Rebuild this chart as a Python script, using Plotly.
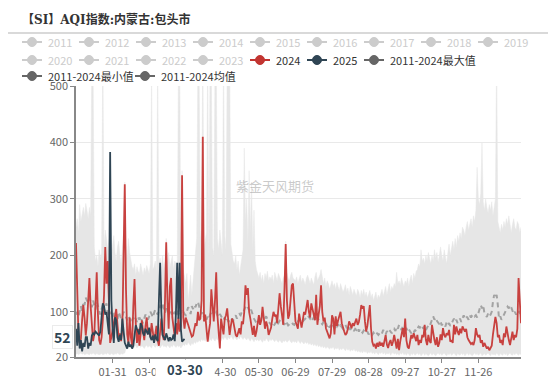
import plotly.graph_objects as go
import pandas as pd

# ---------------- data ----------------
days = pd.date_range("2024-01-01", "2024-12-31", freq="D").strftime("%m-%d").tolist()

v2024 = [
    222, 110, 60, 45, 52, 85, 112, 90, 58, 80,
    125, 160, 110, 70, 48, 60, 120, 170, 95, 50,
    42, 55, 85, 130, 215, 150, 190, 100, 45, 55,
    68, 80, 95, 105, 78, 55, 62, 48, 70, 190,
    326, 140, 60, 45, 90, 55, 40, 110, 158, 80,
    45, 70, 40, 60, 85, 65, 50, 75, 90, 60,
    70, 55, 80, 65, 45, 60, 75, 50, 40, 65,
    88, 60, 50, 120, 223, 120, 70, 145, 160, 90,
    70, 55, 80, 60, 90, 65, 75, 342, 90, 70,
    90, 85, 77, 70, 60, 56, 58, 70, 80, 75,
    100, 85, 88, 120, 410, 83, 95, 70, 47, 65,
    80, 140, 100, 83, 120, 170, 94, 60, 35, 88,
    70, 60, 88, 94, 106, 80, 59, 75, 88, 83,
    70, 59, 56, 65, 71, 60, 83, 78, 100, 147,
    130, 142, 100, 88, 70, 59, 75, 56, 65, 80,
    94, 77, 85, 109, 90, 70, 83, 75, 59, 65,
    72, 88, 100, 92, 95, 80, 105, 133, 110, 90,
    77, 140, 220, 120, 88, 95, 118, 147, 150, 106,
    83, 77, 70, 97, 80, 72, 85, 100, 95, 106,
    121, 100, 90, 115, 105, 94, 85, 130, 77, 95,
    110, 147, 100, 83, 90, 71, 65, 59, 53, 62,
    94, 88, 60, 92, 75, 85, 95, 100, 80, 70,
    65, 59, 62, 70, 83, 78, 71, 80, 75, 82,
    88, 77, 82, 95, 112, 106, 110, 83, 65, 75,
    90, 112, 70, 47, 40, 42, 35, 45, 38, 47,
    40, 45, 38, 47, 59, 42, 36, 45, 50, 40,
    47, 59, 45, 35, 52, 32, 48, 60, 71, 55,
    88, 50, 38, 35, 45, 59, 53, 62, 55, 48,
    59, 41, 50, 45, 59, 55, 77, 50, 41, 59,
    48, 45, 77, 60, 50, 41, 55, 38, 45, 60,
    50, 71, 59, 55, 62, 59, 68, 47, 50, 45,
    77, 60, 74, 65, 59, 70, 62, 74, 68, 65,
    70, 55, 50, 47, 43, 45, 41, 50, 71, 60,
    55, 59, 45, 50, 38, 45, 41, 35, 38, 32,
    36, 40, 60, 75, 91, 80, 55, 59, 45, 50,
    41, 62, 55, 74, 60, 50, 41, 55, 65, 50,
    59, 55, 70, 160, 110, 80,
]

v2025 = [
    70, 40, 80, 35, 50, 30, 45, 38, 55, 55,
    35, 45, 40, 58, 62, 60, 65, 62, 60, 58,
    65, 90, 115, 110, 95, 100, 80, 60, 383, 120,
    70, 45, 90, 85, 55, 47, 59, 50, 88, 60,
    45, 40, 35, 47, 38, 42, 35, 40, 65, 76,
    70, 65, 60, 80, 75, 62, 58, 70, 65, 60,
    72, 55, 50, 58, 45, 60, 52, 48, 120, 187,
    100, 59, 55, 50, 62, 53, 48, 55, 50, 52,
    60, 48, 100, 187, 88, 187, 70, 47, 50, 52,
]

v_mean = [
    95, 100, 92, 105, 110, 100, 118, 112, 125, 120,
    118, 126, 115, 108, 120, 112, 104, 118, 110, 100,
    95, 105, 112, 100, 108, 115, 98, 92, 100, 95,
    90, 98, 88, 92, 85, 100, 95, 88, 92, 100,
    96, 90, 85, 92, 88, 80, 86, 90, 84, 88,
    82, 90, 86, 92, 84, 80, 88, 95, 90, 86,
    92, 100, 96, 90, 98, 104, 100, 95, 102, 110,
    108, 115, 105, 98, 106, 112, 104, 96, 100, 92,
    96, 100, 92, 97, 102, 95, 98, 105, 100, 96,
    94, 100, 108, 104, 96, 110, 105, 112, 108, 115,
    118, 110, 104, 96, 100, 90, 95, 86, 92, 88,
    95, 100, 96, 104, 98, 100, 94, 90, 96, 92,
    88, 85, 90, 84, 88, 82, 86, 83, 88, 85,
    90, 94, 88, 92, 96, 94, 100, 98, 104, 109,
    112, 106, 103, 108, 100, 96, 88, 84, 80, 77,
    82, 78, 88, 94, 90, 88, 92, 86, 82, 80,
    77, 80, 75, 78, 82, 76, 80, 84, 82, 78,
    80, 77, 84, 80, 76, 78, 80, 82, 78, 77,
    82, 85, 83, 86, 84, 80, 83, 85, 88, 90,
    94, 90, 88, 92, 86, 90, 94, 88, 90, 86,
    83, 80, 78, 82, 76, 80, 74, 78, 72, 76,
    80, 75, 71, 77, 74, 78, 72, 76, 73, 70,
    74, 77, 72, 70, 75, 68, 72, 70, 66, 70,
    68, 72, 65, 70, 66, 63, 67, 64, 62, 65,
    60, 64, 62, 59, 63, 60, 64, 61, 59, 62,
    65, 62, 68, 64, 60, 66, 63, 68, 65, 62,
    67, 70, 66, 74, 70, 77, 72, 68, 74, 70,
    68, 71, 65, 69, 64, 62, 66, 63, 68, 65,
    70, 74, 72, 77, 73, 70, 75, 68, 72, 76,
    74, 80, 88, 92, 86, 90, 84, 80, 78, 83,
    76, 80, 78, 74, 82, 77, 80, 75, 79, 84,
    88, 82, 86, 80, 84, 88, 82, 90, 94, 88,
    92, 90, 86, 94, 90, 94, 96, 92, 94, 90,
    98, 108, 112, 106, 112, 97, 94, 91, 97, 92,
    95, 100, 118, 130, 124, 130, 112, 88, 92, 86,
    90, 95, 100, 104, 109, 106, 112, 108, 103, 96,
    100, 95, 102, 100, 98, 104,
]

v_min = [
    25, 26, 24, 25, 27, 25, 26, 24, 25, 26,
    25, 24, 26, 25, 27, 25, 24, 26, 25, 24,
    25, 26, 24, 25, 26, 25, 27, 25, 24, 26,
    25, 24, 26, 25, 27, 25, 24, 26, 25, 26,
    27, 35, 38, 36, 40, 37, 39, 35, 38, 41,
    36, 39, 42, 37, 40, 38, 35, 39, 41, 37,
    40, 38, 36, 42, 39, 37, 41, 38, 40, 36,
    39, 42, 38, 40, 37, 41, 39, 36, 40, 38,
    42, 39, 37, 41, 38, 40, 36, 39, 42, 40,
    44, 41, 46, 43, 40, 45, 42, 47, 44, 48,
    46, 50, 47, 52, 49, 51, 48, 53, 50, 47,
    52, 49, 54, 51, 48, 53, 50, 55, 52, 49,
    54, 51, 56, 53, 50, 55, 52, 57, 54, 51,
    56, 53, 50, 55, 52, 57, 54, 51, 55, 52,
    50, 54, 51, 48, 53, 50, 47, 52, 49, 51,
    48, 52, 49, 46, 51, 48, 53, 50, 47, 52,
    49, 52, 50, 47, 51, 49, 46, 50, 48, 45,
    49, 47, 50, 46, 48, 51, 47, 45, 49, 46,
    48, 45, 50, 47, 44, 48, 46, 43, 47, 44,
    46, 42, 45, 41, 44, 40, 43, 39, 42, 38,
    41, 37, 40, 36, 39, 35, 38, 36, 34, 37,
    35, 38, 33, 36, 34, 37, 32, 35, 33, 36,
    34, 31, 35, 32, 34, 30, 33, 31, 34, 30,
    32, 29, 31, 28, 30, 27, 31, 28, 30, 26,
    29, 27, 30, 26, 28, 25, 29, 27, 24, 28,
    26, 29, 25, 28, 24, 27, 25, 28, 23, 26,
    28, 25, 27, 24, 26, 23, 27, 25, 28, 24,
    26, 23, 27, 25, 22, 26, 24, 27, 23, 25,
    27, 24, 26, 22, 25, 27, 23, 26, 24, 22,
    25, 27, 23, 26, 24, 22, 25, 27, 24, 26,
    23, 25, 27, 24, 22, 26, 24, 27, 23, 25,
    27, 24, 22, 26, 25, 23, 27, 24, 26, 22,
    25, 27, 23, 26, 24, 22, 25, 27, 24, 26,
    23, 25, 27, 22, 24, 26, 23, 25, 27, 24,
    22, 26, 24, 25, 23, 27, 24, 22, 26, 25,
    23, 27, 24, 26, 22, 25, 27, 24, 23, 26,
    24, 27, 25, 23, 26, 24,
]

v_max = [
    250, 265, 240, 290, 260, 275, 285, 270, 292, 280,
    265, 285, 270, 560, 540, 215, 190, 200, 180, 210,
    195, 205, 580, 215, 245, 230, 210, 225, 240, 200,
    220, 235, 205, 190, 215, 225, 200, 185, 210, 240,
    330, 220, 195, 230, 205, 190, 180, 175, 185, 165,
    180, 172, 168, 185, 175, 165, 178, 170, 182, 175,
    168, 185, 540, 175, 180, 190, 170, 560, 185, 195,
    180, 200, 175, 190, 230, 185, 205, 178, 190, 200,
    175, 190, 185, 170, 530, 560, 180, 350, 175, 165,
    150, 168, 120, 140, 165, 130, 155, 170, 200, 230,
    560, 520, 230, 245, 580, 210, 225, 240, 550, 200,
    560, 530, 215, 200, 540, 570, 230, 210, 245, 220,
    200, 560, 235, 210, 540, 520, 560, 220, 205, 190,
    185, 200, 175, 190, 165, 180, 195, 210, 390, 260,
    300, 220, 350, 240, 330, 210, 280, 190, 175, 165,
    160, 170, 155, 165, 150, 168, 160, 172, 155, 162,
    158, 165, 150, 170, 160, 155, 168, 162, 158, 150,
    160, 165, 225, 170, 160, 155, 165, 170, 160, 158,
    155, 162, 150, 158, 165, 152, 160, 155, 148, 160,
    165, 158, 150, 160, 155, 148, 162, 170, 155, 160,
    165, 175, 158, 150, 160, 145, 155, 150, 140, 148,
    155, 145, 150, 140, 152, 145, 138, 150, 142, 135,
    140, 148, 135, 142, 130, 145, 138, 130, 140, 132,
    128, 140, 135, 125, 138, 130, 140, 128, 135, 125,
    130, 138, 125, 132, 120, 128, 135, 122, 130, 125,
    132, 140, 128, 135, 145, 130, 138, 150, 135, 145,
    140, 150, 145, 170, 150, 155, 148, 160, 152, 145,
    155, 150, 160, 145, 158, 165, 150, 168, 160, 172,
    175, 185, 180, 210, 190, 195, 185, 200, 190, 205,
    195, 185, 200, 190, 210, 195, 205, 188, 200, 215,
    200, 190, 210, 195, 185, 205, 220, 200, 215, 225,
    210, 230, 215, 235, 225, 240, 230, 250, 245, 235,
    250, 260, 245, 255, 265, 250, 270, 260, 280, 356,
    300, 290, 310, 400, 295, 280, 300, 285, 275, 290,
    280, 295, 270, 285, 300, 560, 260, 250, 240, 255,
    245, 260, 250, 265, 255, 270, 250, 240, 255, 265,
    250, 245, 260, 255, 240, 250,
]

tick_days = ["01-31", "03-01", "03-31", "04-30", "05-30", "06-29",
             "07-29", "08-28", "09-27", "10-27", "11-26"]
y_ticks = [20, 100, 200, 300, 400, 500]

legend_names = ["2011", "2012", "2013", "2014", "2015", "2016", "2017", "2018", "2019",
                "2020", "2021", "2022", "2023", "2024", "2025",
                "2011-2024最大值", "2011-2024最小值", "2011-2024均值"]
legend_active = {"2024": "#c23531", "2025": "#2f4554",
                 "2011-2024最大值": "#666666", "2011-2024最小值": "#666666",
                 "2011-2024均值": "#666666"}

pointer_day = "03-30"
pointer_value = 52

assert len(days) == 366 and len(v2024) == 366 and len(v_mean) == 366
assert len(v_min) == 366 and len(v_max) == 366 and len(v2025) == 90

# ---------------- figure ----------------
FONT = "Noto Sans CJK SC, Noto Sans, sans-serif"
L, R, T, B = 76, 29, 86, 21
W, H = 550, 378
PW, PH = W - L - R, H - T - B


def px_x(px):
    return (px - L) / PW


def px_y(py):
    return (H - B - py) / PH


fig = go.Figure()
fig.add_trace(go.Scatter(x=days, y=v_min, mode="lines", line=dict(width=0.5, color="#e6e6e6"),
                         showlegend=False, hoverinfo="skip"))
fig.add_trace(go.Scatter(x=days, y=v_max, mode="lines", line=dict(width=0.5, color="#e6e6e6"),
                         fill="tonexty", fillcolor="#e6e6e6", showlegend=False, hoverinfo="skip"))
fig.add_trace(go.Scatter(x=days, y=v_mean, mode="lines",
                         line=dict(width=2, color="#a3a3a3", dash="5px,4px"), showlegend=False))
fig.add_trace(go.Scatter(x=days, y=v2024, mode="lines",
                         line=dict(width=1.8, color="#c8413f"), showlegend=False))
fig.add_trace(go.Scatter(x=days[:len(v2025)], y=v2025, mode="lines",
                         line=dict(width=1.8, color="#2f4554"), showlegend=False))

shapes = []
annotations = []

# title + separator line
annotations.append(dict(text="<b>【SI】AQI指数:内蒙古:包头市</b>", xref="paper", yref="paper",
                        x=px_x(20), y=px_y(19), xanchor="left", yanchor="middle", showarrow=False,
                        font=dict(family="DejaVu Serif, Noto Sans CJK SC", size=12, color="#333")))
shapes.append(dict(type="line", xref="paper", yref="paper", x0=px_x(8), x1=px_x(548),
                   y0=px_y(33), y1=px_y(33), line=dict(color="#cccccc", width=1.5)))

# legend (drawn as in the reference: 9 items per row)
rows_y = [42, 60, 76]
step = 57
positions = []
for k, name in enumerate(legend_names):
    if k < 9:
        positions.append((22 + step * k, rows_y[0]))
    elif k < 16:
        positions.append((22 + step * (k - 9), rows_y[1]))
    elif k == 16:
        positions.append((22, rows_y[2]))
    else:
        positions.append((135, rows_y[2]))

for name, (x0, yy) in zip(legend_names, positions):
    col = legend_active.get(name, "#cccccc")
    tcol = "#333333" if name in legend_active else "#cccccc"
    shapes.append(dict(type="line", xref="paper", yref="paper", x0=px_x(x0), x1=px_x(x0 + 20),
                       y0=px_y(yy), y1=px_y(yy), line=dict(color=col, width=2)))
    shapes.append(dict(type="circle", xref="paper", yref="paper", xsizemode="pixel", ysizemode="pixel",
                       xanchor=px_x(x0 + 10), yanchor=px_y(yy), x0=-4.5, x1=4.5, y0=-4.5, y1=4.5,
                       fillcolor=col, line=dict(color=col, width=1)))
    annotations.append(dict(text=name, xref="paper", yref="paper", x=px_x(x0 + 24), y=px_y(yy),
                            xanchor="left", yanchor="middle", showarrow=False,
                            font=dict(family=FONT, size=11, color=tcol)))

# watermark
annotations.append(dict(text="紫金天风期货", xref="paper", yref="paper", x=px_x(275), y=px_y(185),
                        showarrow=False, font=dict(family=FONT, size=13, color="rgba(150,150,150,0.5)")))

# axis-pointer labels
annotations.append(dict(text="<b>%s</b>" % pointer_day, xref="x", yref="paper", x=pointer_day, y=0,
                        yanchor="top", yshift=-2, showarrow=False, bgcolor="white", width=58,
                        borderpad=0, font=dict(family=FONT, size=13, color="#2f4554")))
annotations.append(dict(text="<b>%d</b>" % pointer_value, xref="paper", yref="y", x=0, y=pointer_value,
                        xanchor="right", xshift=-3, yshift=2, showarrow=False, bgcolor="white",
                        bordercolor="rgba(0,0,0,0.08)", borderwidth=1, borderpad=1,
                        font=dict(family=FONT, size=14, color="#2f4554")))

fig.update_layout(
    width=W, height=H, margin=dict(l=L, r=R, t=T, b=B, autoexpand=False),
    paper_bgcolor="white", plot_bgcolor="white", showlegend=False,
    font=dict(family=FONT, size=11, color="#666"),
    shapes=shapes, annotations=annotations,
    xaxis=dict(type="category", categoryorder="array", categoryarray=days, range=[0, 365],
               tickmode="array", tickvals=tick_days, ticktext=tick_days,
               showline=True, linecolor="#888", linewidth=1.5, ticks="outside", ticklen=4,
               tickcolor="#888", showgrid=False, zeroline=False,
               tickfont=dict(family=FONT, size=11, color="#666"), automargin=False),
    yaxis=dict(range=[20, 500], tickmode="array", tickvals=y_ticks,
               showline=True, linecolor="#888", linewidth=1.5, ticks="outside", ticklen=4,
               tickcolor="#888", showgrid=True, gridcolor="#e9e9e9", gridwidth=1, zeroline=False,
               tickfont=dict(family=FONT, size=11, color="#666"), automargin=False),
)

fig.write_html("out.html", config={"displayModeBar": False},
               post_script="document.body.style.margin='0px';document.body.style.padding='0px';")
